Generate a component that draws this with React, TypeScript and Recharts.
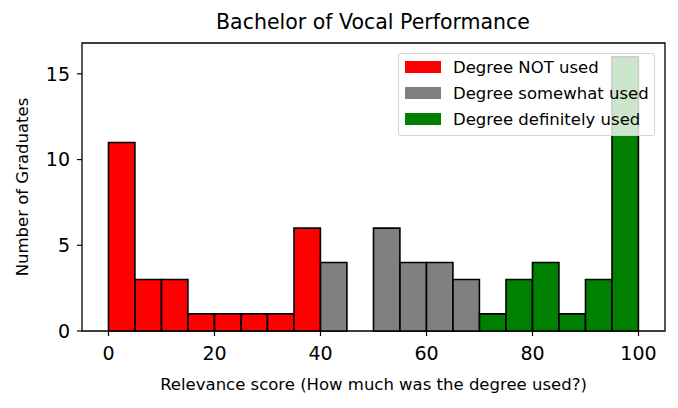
import { Bar, ComposedChart, ReferenceArea, XAxis, YAxis } from "recharts";

// histogram bins (width 5) and counts per usage group
const binStarts = [0, 5, 10, 15, 20, 25, 30, 35, 40, 45, 50, 55, 60, 65, 70, 75, 80, 85, 90, 95];
const notUsed = [11, 3, 3, 1, 1, 1, 1, 6, null, null, null, null, null, null, null, null, null, null, null, null];
const somewhatUsed = [null, null, null, null, null, null, null, null, 4, null, 6, 4, 4, 3, null, null, null, null, null, null];
const definitelyUsed = [null, null, null, null, null, null, null, null, null, null, null, null, null, null, 1, 3, 4, 1, 3, 16];

const xTicks = [0, 20, 40, 60, 80, 100];
const yTicks = [0, 5, 10, 15];

const legendItems = [
  { label: "Degree NOT used", color: "#ff0000" },
  { label: "Degree somewhat used", color: "#808080" },
  { label: "Degree definitely used", color: "#008000" },
];

const data = binStarts.map((start, i) => ({
  center: start + 2.5,
  notUsed: notUsed[i],
  somewhatUsed: somewhatUsed[i],
  definitelyUsed: definitelyUsed[i],
}));

const FONT = "'DejaVu Sans', sans-serif";
// a hair under the band size so recharts doesn't shrink the bars to 90%
const BIN_PX = 26.4;

export default function App() {
  return (
    <div style={{ position: "relative", width: 678, height: 408, margin: -8, background: "#fff", fontFamily: FONT }}>
      <div
        style={{
          position: "absolute",
          top: 10,
          left: 0,
          width: 746,
          textAlign: "center",
          fontSize: 20.5,
          color: "#000",
        }}
      >
        Bachelor of Vocal Performance
      </div>
      <ComposedChart
        width={678}
        height={408}
        data={data}
        margin={{ top: 43, right: 13, bottom: 15, left: 22 }}
        style={{ fontFamily: FONT }}
      >
        <XAxis
          dataKey="center"
          type="number"
          domain={[-5, 105]}
          ticks={xTicks}
          axisLine={false}
          tickSize={5}
          tickMargin={11}
          height={62}
          tick={{ fill: "#000", fontSize: 19 }}
          tickLine={{ stroke: "#000", strokeWidth: 1.2 }}
          label={{ value: "Relevance score (How much was the degree used?)", position: "insideBottom", offset: 3, fill: "#000", fontSize: 16.5 }}
        />
        <YAxis
          type="number"
          domain={[0, 16.8]}
          ticks={yTicks}
          axisLine={false}
          width={60}
          tickSize={5}
          tickMargin={7}
          tick={{ fill: "#000", fontSize: 19 }}
          tickLine={{ stroke: "#000", strokeWidth: 1.2 }}
          label={{ value: "Number of Graduates", angle: -90, position: "insideLeft", offset: 0, fill: "#000", fontSize: 16.5, style: { textAnchor: "middle" } }}
        />
        <Bar dataKey="notUsed" stackId="h" barSize={BIN_PX} fill="#ff0000" stroke="#000" strokeWidth={1.6} isAnimationActive={false} />
        <Bar dataKey="somewhatUsed" stackId="h" barSize={BIN_PX} fill="#808080" stroke="#000" strokeWidth={1.6} isAnimationActive={false} />
        <Bar dataKey="definitelyUsed" stackId="h" barSize={BIN_PX} fill="#008000" stroke="#000" strokeWidth={1.6} isAnimationActive={false} />
        <ReferenceArea x1={-5} x2={105} y1={0} y2={16.8} fill="none" stroke="#000" strokeWidth={1.3} ifOverflow="visible" />
      </ComposedChart>
      <div
        style={{
          position: "absolute",
          left: 398,
          top: 53,
          width: 257,
          height: 83,
          boxSizing: "border-box",
          background: "rgba(255,255,255,0.8)",
          border: "1px solid rgba(204,204,204,0.8)",
          borderRadius: 3,
          padding: "0 0 0 6px",
        }}
      >
        {legendItems.map((item) => (
          <div key={item.label} style={{ display: "flex", alignItems: "center", height: 26, fontSize: 16.5, color: "#000" }}>
            <span style={{ display: "inline-block", width: 36, height: 12, background: item.color, marginRight: 12 }} />
            {item.label}
          </div>
        ))}
      </div>
    </div>
  );
}
